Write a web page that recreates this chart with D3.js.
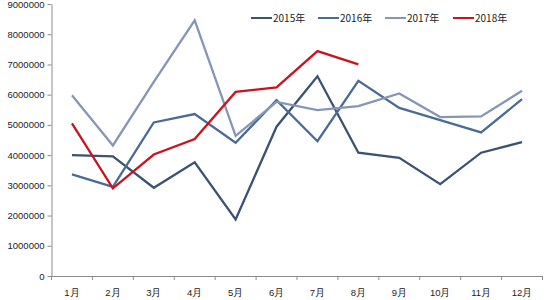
<!DOCTYPE html>
<html>
<head>
<meta charset="utf-8">
<script src="https://cdn.jsdelivr.net/npm/d3@7"></script>
<style>
body { margin: 0; background: #fff; }
svg { font-family: "Noto Sans CJK SC", "Noto Sans", sans-serif; }
</style>
</head>
<body>
<svg></svg>
<script>
let months = ['1月', '2月', '3月', '4月', '5月', '6月', '7月', '8月', '9月', '10月', '11月', '12月']
let years = ['2015年', '2016年', '2017年', '2018年']
let v2015 = [4000000, 3960000, 2920000, 3760000, 1870000, 4940000, 6610000, 4080000, 3910000, 3040000, 4080000, 4430000]
let v2016 = [3360000, 2950000, 5080000, 5360000, 4410000, 5820000, 4460000, 6460000, 5560000, 5160000, 4750000, 5850000]
let v2017 = [5980000, 4320000, 6420000, 8460000, 4640000, 5760000, 5490000, 5620000, 6040000, 5260000, 5280000, 6130000]
let v2018 = [5050000, 2900000, 4020000, 4530000, 6090000, 6240000, 7440000, 7000000]
let yTicks = [0, 1000000, 2000000, 3000000, 4000000, 5000000, 6000000, 7000000, 8000000, 9000000]
let colors = ['#3b5273', '#4a6b96', '#8596b6', '#c8141e']

let width = 550
let height = 300
let padLeft = 51.5
let padRight = 542.5
let padTop = 4
let padBottom = 276

let svg = d3.select('svg')
    .attr('width', width)
    .attr('height', height)

let xScale = d3.scaleBand()
    .domain(months)
    .range([padLeft, padRight])

let yScale = d3.scaleLinear()
    .domain([0, 9000000])
    .range([padBottom, padTop])

let yAxis = d3.axisLeft(yScale)
    .tickValues(yTicks)
    .tickFormat(d3.format('d'))
    .tickSize(4)
    .tickSizeOuter(0)
    .tickPadding(3)

let gy = svg.append('g')
    .attr('transform', 'translate(' + padLeft + ', 0)')
    .call(yAxis)

let xAxis = d3.axisBottom(xScale)
    .tickSize(0)
    .tickSizeOuter(0)
    .tickPadding(13)

let gx = svg.append('g')
    .attr('transform', 'translate(0, ' + padBottom + ')')
    .call(xAxis)

// category boundary ticks
gx.selectAll('.bound')
    .data(months.concat(['end']))
    .enter()
    .append('line')
    .attr('x1', (d, i) => padLeft + i * xScale.step())
    .attr('x2', (d, i) => padLeft + i * xScale.step())
    .attr('y1', 0)
    .attr('y2', 4)
    .attr('stroke', '#8c8c8c')

svg.selectAll('.domain').attr('stroke', '#8c8c8c')
svg.selectAll('.tick line').attr('stroke', '#8c8c8c')
svg.selectAll('.tick text')
    .attr('fill', '#222')
    .style('font-size', '9.5px')

let line = d3.line()
    .x((d, i) => xScale(months[i]) + xScale.bandwidth() / 2)
    .y(d => yScale(d))

let series = [v2015, v2016, v2017, v2018]

svg.selectAll('.series')
    .data(series)
    .enter()
    .append('path')
    .attr('d', d => line(d))
    .attr('fill', 'none')
    .attr('stroke', (d, i) => colors[i])
    .attr('stroke-width', 2.3)

// legend
let legendX = [251, 318, 385, 453]
let legend = svg.selectAll('.legend')
    .data(years)
    .enter()
    .append('g')
    .attr('transform', (d, i) => 'translate(' + legendX[i] + ', 18)')

legend.append('line')
    .attr('x1', 0)
    .attr('x2', 21)
    .attr('y1', 0)
    .attr('y2', 0)
    .attr('stroke', (d, i) => colors[i])
    .attr('stroke-width', 2)

legend.append('text')
    .attr('x', 22)
    .attr('y', 3.5)
    .style('font-size', '10px')
    .attr('fill', '#222')
    .text(d => d)
</script>
</body>
</html>
